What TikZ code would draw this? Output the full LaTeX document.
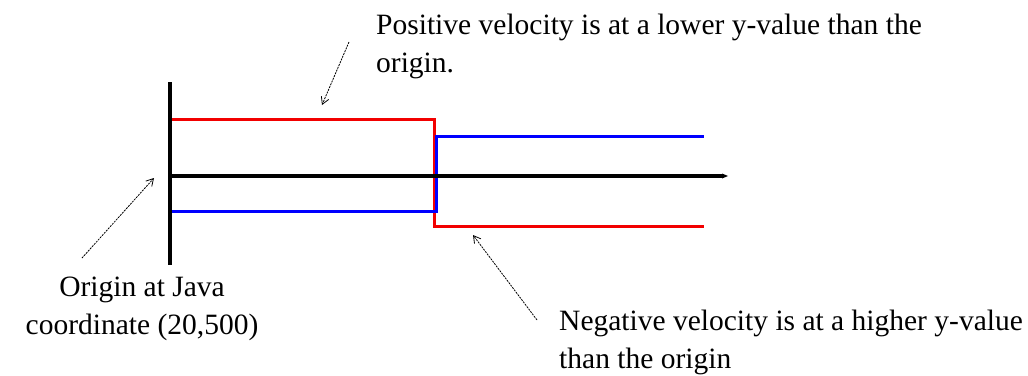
\documentclass[tikz,border=0pt]{standalone}
\usepackage{fontspec}
\setmainfont{Liberation Serif}
\usetikzlibrary{arrows.meta}
\begin{document}
\begin{tikzpicture}[x=1pt,y=-1pt,
  lbl/.style={font=\fontsize{29.5}{38}\selectfont, inner sep=0pt},
  pointer/.style={line width=0.8pt, dash pattern=on 2pt off 1pt, -{Straight Barb[length=7pt,width=8pt,line width=0.8pt]}},
  axis/.style={line width=4pt, black},
  redline/.style={line width=3pt, red!95!black},
  blueline/.style={line width=3pt, blue}]
\useasboundingbox (0,0) rectangle (1028,375);
% axes
\coordinate (vtop) at (170,82);
\coordinate (vbot) at (170,265);
\coordinate (hl) at (168,176);
\coordinate (hr) at (722,176);
\coordinate (htip) at (728,176);
% red path
\coordinate (r1) at (172,119);
\coordinate (r2) at (434,119);
\coordinate (r3) at (434,226);
\coordinate (r4) at (704,226);
% blue path
\coordinate (b1) at (172,211);
\coordinate (b2) at (436,211);
\coordinate (b3) at (436,136);
\coordinate (b4) at (704,136);
\draw[redline] (r1) -- (r2) -- (r3) -- (r4);
\draw[blueline] (b1) -- (b2) -- (b3) -- (b4);
\draw[axis] (vtop) -- (vbot);
\draw[axis] (hl) -- (hr);
\fill (hr) ++(0,-2.5) -- (htip) -- ++(-6,2.5) -- cycle;
% labels (base anchor = baseline of last line)
\node[lbl, anchor=base west, align=left] (pos) at (376,72) {Positive velocity is at a lower y-value than the\\origin.};
\node[lbl, anchor=base, align=center] (orig) at (142,334) {Origin at Java\\coordinate (20,500)};
\node[lbl, anchor=base west, align=left] (neg) at (559,368) {Negative velocity is at a higher y-value\\than the origin};
% pointers
\coordinate (p1s) at (349,42);
\coordinate (p1e) at (322,105);
\coordinate (p2s) at (82,258);
\coordinate (p2e) at (154,178);
\coordinate (p3s) at (537,320);
\coordinate (p3e) at (473,235);
\draw[pointer] (p1s) -- (p1e);
\draw[pointer] (p2s) -- (p2e);
\draw[pointer] (p3s) -- (p3e);
\end{tikzpicture}
\end{document}
